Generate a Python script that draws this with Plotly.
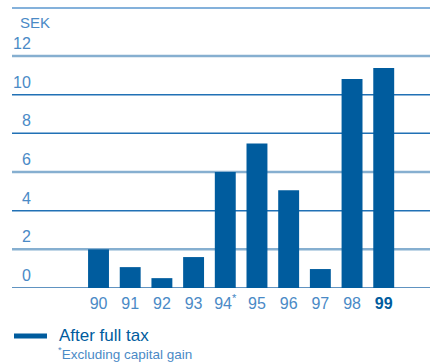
import plotly.graph_objects as go

# ---- data ----
years = ["90", "91", "92", "93", "94", "95", "96", "97", "98", "99"]
year_labels = ["90", "91", "92", "93", "94<sup>*</sup>", "95", "96", "97", "98",
               "<span style='color:#005c9e'><b>99</b></span>"]
dividend = [2.0, 1.08, 0.51, 1.6, 6.0, 7.47, 5.05, 0.98, 10.81, 11.38]
y_ticks = [0, 2, 4, 6, 8, 10, 12]
y_tick_labels = ["0", "2", "4", "6", "8", "10", "12"]
grid_style = {0: ("#2b6fad", 1.5), 2: ("#86afd0", 2.5), 4: ("#2171b5", 1.5),
              6: ("#86afd0", 2.5), 8: ("#2171b5", 1.5), 10: ("#2171b5", 1.5),
              12: ("#86afd0", 2.5)}

BAR = "#005c9e"
LABEL = "#4a8ac6"
FONT = "Liberation Sans, Arial, sans-serif"

fig = go.Figure()
fig.add_trace(go.Bar(x=years, y=dividend, marker_color=BAR, marker_line_width=0,
                     width=0.66, showlegend=False, hoverinfo="x+y"))

shapes = []
for v in y_ticks:
    c, w = grid_style[v]
    shapes.append(dict(type="line", xref="paper", x0=0, x1=1, yref="y", y0=v, y1=v,
                       line=dict(color=c, width=w), layer="below"))
# top border line
shapes.append(dict(type="line", xref="paper", x0=0, x1=1, yref="paper", y0=1, y1=1,
                   line=dict(color="#5b97cf", width=1.5), layer="below"))
# legend swatch
shapes.append(dict(type="line", xref="paper", yref="paper",
                   x0=0.0048, x1=0.0837, y0=-0.1714, y1=-0.1714,
                   line=dict(color=BAR, width=5)))

annotations = []
for v, t in zip(y_ticks, y_tick_labels):
    annotations.append(dict(text=t, xref="paper", yref="y", x=0.0502, y=v,
                            xanchor="right", yanchor="bottom", yshift=2,
                            showarrow=False, font=dict(size=16, color=LABEL, family=FONT)))
annotations.append(dict(text="SEK", xref="paper", yref="paper", x=0.0144, y=0.948,
                        xanchor="left", yanchor="middle", showarrow=False,
                        font=dict(size=15, color=LABEL, family=FONT)))
annotations.append(dict(text="After full tax", xref="paper", yref="paper", x=0.108, y=-0.1679,
                        xanchor="left", yanchor="middle", showarrow=False,
                        font=dict(size=17, color=BAR, family=FONT)))
annotations.append(dict(text="<sup>*</sup>Excluding capital gain", xref="paper", yref="paper",
                        x=0.105, y=-0.2714, xanchor="left", yanchor="bottom", showarrow=False,
                        font=dict(size=13.5, color=LABEL, family=FONT)))

fig.update_layout(
    width=430, height=364,
    margin=dict(l=12, r=0, t=8, b=76),
    paper_bgcolor="white", plot_bgcolor="white",
    font=dict(family=FONT),
    xaxis=dict(type="category", range=[-2.73, 10.46], tickvals=years, ticktext=year_labels,
               showgrid=False, zeroline=False, showline=False, ticks="outside", ticklen=0,
               ticklabelstandoff=1,
               tickfont=dict(size=16, color=LABEL, family=FONT)),
    yaxis=dict(range=[0, 14.48], showgrid=False, zeroline=False, showline=False,
               showticklabels=False, ticks=""),
    shapes=shapes, annotations=annotations,
)

fig.write_html("out.html")
